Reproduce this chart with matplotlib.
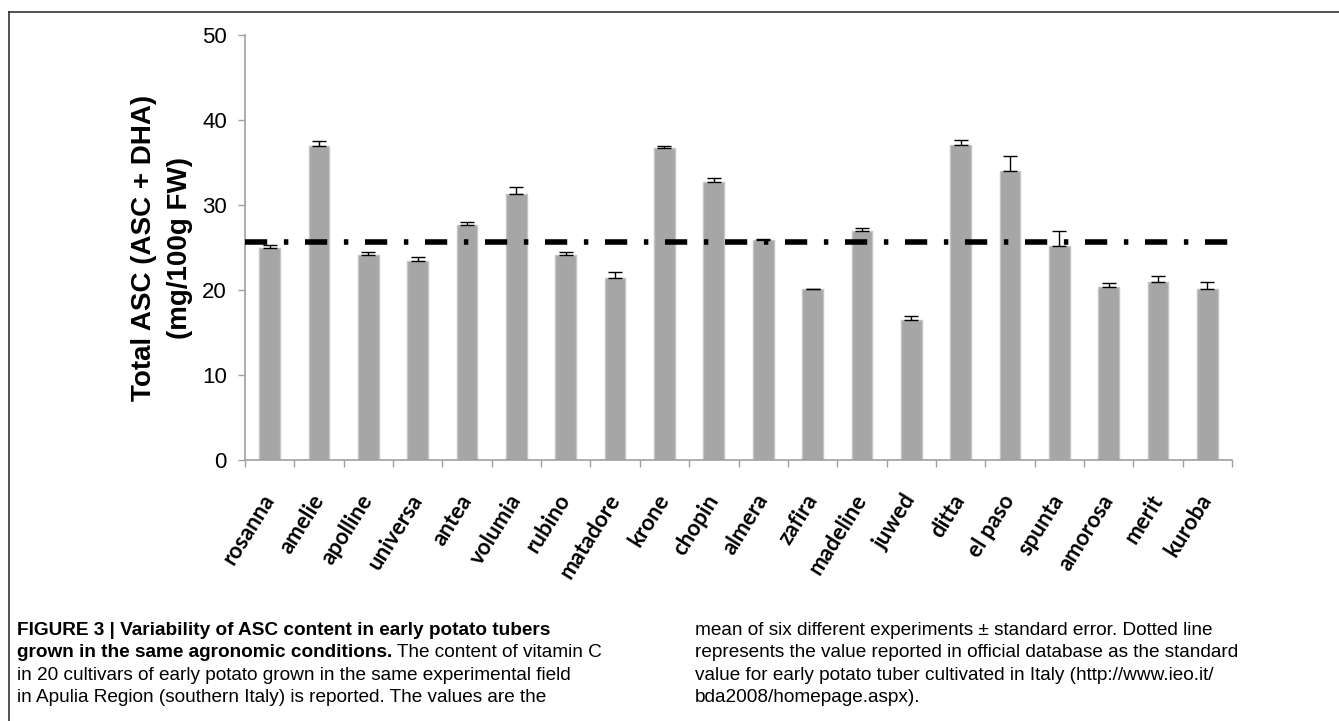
import matplotlib
matplotlib.use("Agg")
import matplotlib.pyplot as plt
from matplotlib.lines import Line2D
import numpy as np


# Chart data
cultivars = ["rosanna", "amelie", "apolline", "universa", "antea", "volumia",
             "rubino", "matadore", "krone", "chopin", "almera", "zafira",
             "madeline", "juwed", "ditta", "el paso", "spunta", "amorosa",
             "merit", "kuroba"]
asc_total = [25.0, 37.0, 24.1, 23.4, 27.7, 31.3, 24.1, 21.4, 36.7, 32.7,
             25.9, 20.1, 27.0, 16.5, 37.1, 34.0, 25.2, 20.3, 20.9, 20.1]
std_err = [0.3, 0.5, 0.4, 0.5, 0.3, 0.8, 0.4, 0.7, 0.3, 0.5,
           0.1, 0.05, 0.3, 0.5, 0.5, 1.8, 1.7, 0.5, 0.8, 0.9]
reference_value = 25.6
y_ticks = [0, 10, 20, 30, 40, 50]

y_label = "Total ASC (ASC + DHA)\n(mg/100g FW)"

caption_left_bold = ["FIGURE 3 | Variability of ASC content in early potato tubers",
                     "grown in the same agronomic conditions."]
caption_left_rest = [" The content of vitamin C",
                     "in 20 cultivars of early potato grown in the same experimental field",
                     "in Apulia Region (southern Italy) is reported. The values are the"]
caption_right = ["mean of six different experiments \u00b1 standard error. Dotted line",
                 "represents the value reported in official database as the standard",
                 "value for early potato tuber cultivated in Italy (http://www.ieo.it/",
                 "bda2008/homepage.aspx)."]

W, H = 1339, 721
AXIS_GREY = "#a0a0a0"


def px(x, y):
    # pixel position (from top left) -> figure fraction
    return x / W, 1 - y / H


fig = plt.figure(figsize=(W / 100, H / 100), dpi=100)
fig.patch.set_facecolor("white")

left, bottom = px(245, 460)
ax = fig.add_axes([left, bottom, 987 / W, 425 / H])

x = np.arange(len(cultivars))
ax.bar(x, asc_total, width=0.42, color="#a6a6a6", edgecolor="#c4c4c4",
       linewidth=1, zorder=2)
ax.errorbar(x, asc_total, yerr=[np.zeros(len(std_err)), std_err], fmt="none",
            ecolor="black", elinewidth=1, capsize=5, capthick=1, zorder=3)

# reference value from official database
ax.axhline(reference_value, color="black", linewidth=4,
           linestyle=(0, (4, 3, 0.8, 3)), dash_capstyle="butt", zorder=4)

ax.set_xlim(-0.5, len(cultivars) - 0.5)
ax.set_ylim(0, 50)

for side in ["top", "right"]:
    ax.spines[side].set_visible(False)
for side in ["left", "bottom"]:
    ax.spines[side].set_color(AXIS_GREY)
    ax.spines[side].set_linewidth(1.2)

ax.set_yticks(y_ticks)
ax.set_yticklabels([str(t) for t in y_ticks], fontfamily="Liberation Sans")
ax.tick_params(axis="y", direction="out", length=5, width=1,
               color=AXIS_GREY, labelsize=16, pad=8)

ax.set_xticks(x)
ax.set_xticklabels(cultivars, rotation=58, ha="right", va="center",
                   rotation_mode="anchor", fontweight="bold",
                   fontfamily="Lato", fontsize=16)
ax.set_xticks(np.arange(-0.5, len(cultivars)), minor=True)
ax.tick_params(axis="x", which="major", length=0, pad=26)
ax.tick_params(axis="x", which="minor", direction="out", length=5, width=1,
               color=AXIS_GREY)

lx, ly = px(162, 248)
fig.text(lx, ly, y_label, rotation=90, ha="center", va="center",
         multialignment="center", fontsize=20, fontweight="bold",
         fontfamily="Liberation Sans", linespacing=1.5)

# frame around figure + caption
fx, fy = px(9, 12)
fig.add_artist(Line2D([fx, 1], [fy, fy], color="#333333", linewidth=1.2))
fig.add_artist(Line2D([fx, fx], [0, fy], color="#333333", linewidth=1.2))

# caption
cap_size = 13.7
baselines = [635, 657, 680, 702]
cap_font = "Liberation Sans"

texts = []
for i, line in enumerate(caption_left_bold):
    cx, cy = px(17, baselines[i])
    t = fig.text(cx, cy, line, fontsize=cap_size, fontweight="bold",
                 fontfamily=cap_font, va="baseline", ha="left")
    texts.append(t)

renderer = fig.canvas.get_renderer()
ext = texts[1].get_window_extent(renderer=renderer)
fig.text(ext.x1 / W, px(0, baselines[1])[1], caption_left_rest[0],
         fontsize=cap_size, fontfamily=cap_font, va="baseline", ha="left")
for i, line in enumerate(caption_left_rest[1:]):
    cx, cy = px(17, baselines[i + 2])
    fig.text(cx, cy, line, fontsize=cap_size, fontfamily=cap_font,
             va="baseline", ha="left")

for i, line in enumerate(caption_right):
    cx, cy = px(695, baselines[i])
    fig.text(cx, cy, line, fontsize=cap_size, fontfamily=cap_font,
             va="baseline", ha="left")

fig.savefig("out.png", dpi=100)
